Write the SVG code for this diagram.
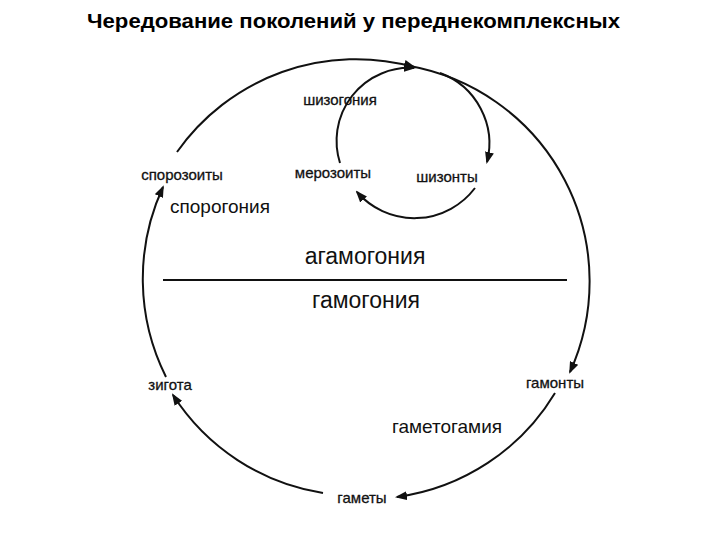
<svg xmlns="http://www.w3.org/2000/svg" width="720" height="540" viewBox="0 0 720 540">
<style>
.t{font-family:"Liberation Sans",Arial,sans-serif;fill:#111;text-anchor:middle}
.s{font-size:15px;stroke:#111;stroke-width:0.3}
.m{font-size:19px}
.l{font-size:23px}
.c{fill:none;stroke:#111;stroke-width:2}
</style>
<defs>
<marker id="ah" markerUnits="userSpaceOnUse" markerWidth="12" markerHeight="9" refX="10" refY="4.5" orient="auto">
<path d="M0,0 L12,4.5 L0,9 z" fill="#111"/>
</marker>
</defs>
<rect width="720" height="540" fill="#fff"/>
<text x="87" y="28" font-family="Liberation Sans,Arial,sans-serif" font-weight="bold" font-size="20" textLength="533" lengthAdjust="spacingAndGlyphs" fill="#000">Чередование поколений у переднекомплексных</text>
<g id="connectors">
<path class="c" d="M177 152 A219 219 0 0 1 414 67" marker-end="url(#ah)"/>
<path class="c" d="M410 66 A219 219 0 0 1 570 372" marker-end="url(#ah)"/>
<path class="c" d="M555 393 A219 219 0 0 1 397 497" marker-end="url(#ah)"/>
<path class="c" d="M323 493 A219 219 0 0 1 173 395" marker-end="url(#ah)"/>
<path class="c" d="M166 377 A219 219 0 0 1 163 187" marker-end="url(#ah)"/>
<path class="c" d="M340 163 A73 73 0 0 1 414 68" marker-end="url(#ah)"/>
<path class="c" d="M440 73 A75 75 0 0 1 487 162" marker-end="url(#ah)"/>
<path class="c" d="M475 188 A76 76 0 0 1 357 192" marker-end="url(#ah)"/>
<line class="c" x1="163" y1="280" x2="567" y2="280"/>
</g>
<g id="shizogonia"><text class="t s" x="340" y="105">шизогония</text></g>
<g id="sporozoity"><text class="t s" x="182" y="180">спорозоиты</text></g>
<g id="merozoity"><text class="t s" x="333" y="178">мерозоиты</text></g>
<g id="shizonty"><text class="t s" x="447" y="182">шизонты</text></g>
<g id="sporogonia"><text class="t m" x="220" y="213">спорогония</text></g>
<g id="agamogonia"><text class="t l" x="365" y="264">агамогония</text></g>
<g id="gamogonia"><text class="t l" x="366" y="308">гамогония</text></g>
<g id="zigota"><text class="t s" x="170" y="390">зигота</text></g>
<g id="gamonty"><text class="t s" x="555" y="388">гамонты</text></g>
<g id="gametogamia"><text class="t m" x="447" y="433">гаметогамия</text></g>
<g id="gamety"><text class="t s" x="362" y="503">гаметы</text></g>
</svg>
